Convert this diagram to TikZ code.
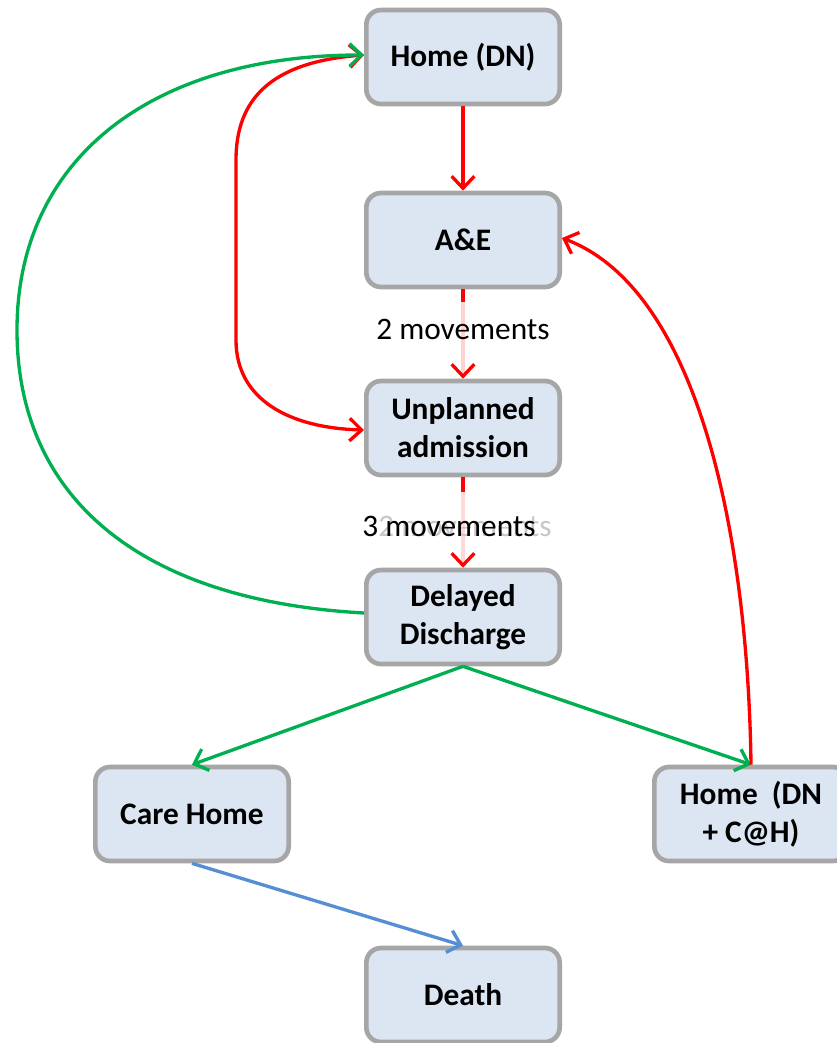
\documentclass[tikz,border=0pt]{standalone}
\usepackage{fontspec}
\setmainfont{Carlito}
\usetikzlibrary{arrows.meta}
\definecolor{boxfill}{HTML}{DCE6F2}
\definecolor{boxline}{HTML}{A6A6A6}
\definecolor{pgreen}{HTML}{00B050}
\definecolor{pblue}{HTML}{558ED5}
\definecolor{pred}{HTML}{FF0000}
\tikzset{
  box/.style={draw=boxline, line width=3.5pt, fill=boxfill, rounded corners=11pt,
    minimum width=145pt, minimum height=70.5pt, align=center, inner sep=2pt,
    font=\fontsize{23.5}{28.5}\selectfont\bfseries},
  tipb/.style={Straight Barb[length=9pt,width=17pt,line width=2.5pt]},
  conn/.style={line width=2.5pt, -{Straight Barb[length=9pt,width=17pt,line width=2.5pt]}},
  lbl/.style={font=\fontsize{23.5}{28.5}\selectfont, inner sep=0pt}
}
\begin{document}
\begin{tikzpicture}[x=0.75pt,y=-0.75pt]
\clip (0,0) rectangle (837,1043);
\fill[white] (0,0) rectangle (837,1043);
\node[box] (hdn) at (463,57) {Home (DN)};
\node[box] (ae) at (463,240) {A\&E};
\node[box] (ua) at (463,428) {Unplanned\\admission};
\node[box] (dd) at (463,617) {Delayed\\Discharge};
\node[box] (ch) at (192,814) {Care Home};
\node[box] (hch) at (751,814) {Home~~(DN\\+ C@H)};
\node[box] (death) at (463,995) {Death};

% Home DN -> A&E
\draw[conn, pred] (hdn.south) -- (ae.north);
% A&E -> Unplanned (faded)
\draw[line width=2.5pt, red!18, -{Straight Barb[length=9pt,width=17pt,line width=2.5pt,color=pred]}] (ae.south) -- (ua.north);
\coordinate (s1) at (463,302);
\draw[line width=2.5pt, pred] (ae.south) -- (s1);
\node[lbl] (l1) at (463,329) {2 movements};
% Unplanned -> Delayed (faded)
\draw[line width=2.5pt, red!15, -{Straight Barb[length=9pt,width=17pt,line width=2.5pt,color=pred]}] (ua.south) -- (dd.north);
\coordinate (s2) at (463,492);
\draw[line width=2.5pt, pred] (ua.south) -- (s2);
\node[lbl, text=black!22] (l2b) at (465,526) {2 movements};
\node[lbl] (l2) at (449,526) {3 movements};

% red double curve Home DN <-> Unplanned
\draw[line width=2.5pt, pred, {Straight Barb[length=9pt,width=17pt,line width=2.5pt]}-{Straight Barb[length=9pt,width=17pt,line width=2.5pt]}]
  ([yshift=1.5pt]hdn.west) .. controls (270,62) and (236,100) .. (236,160)
  -- (236,340) .. controls (236,400) and (290,428) .. ([yshift=-1.5pt]ua.west);

% green big arc Delayed -> Home DN
\draw[conn, pgreen] ([yshift=3pt]dd.west) .. controls (130,600) and (17,490) .. (17,330)
  .. controls (17,160) and (150,55) .. ([yshift=1.5pt]hdn.west);

% Delayed -> Care Home and Home DN+C@H
\draw[conn, pgreen] (dd.south) -- (ch.north);
\draw[conn, pgreen] (dd.south) -- (hch.north);

% Home DN+C@H -> A&E
\draw[conn, pred] (hch.north) .. controls (748,540) and (700,290) .. ([yshift=1.5pt]ae.east);

% Care Home -> Death
\draw[conn, pblue] (ch.south) -- (death.north);
\end{tikzpicture}
\end{document}
